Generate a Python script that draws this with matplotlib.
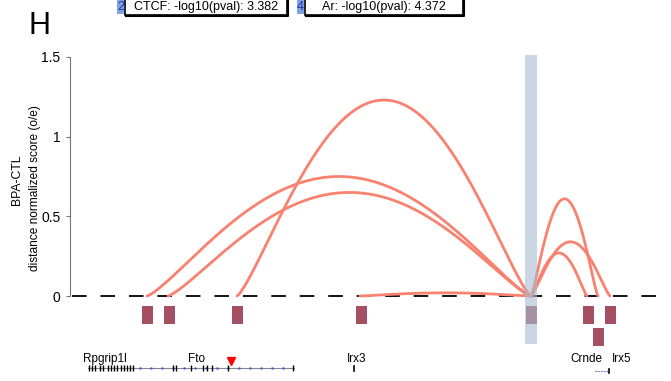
import numpy as np
import matplotlib
matplotlib.use("Agg")
import matplotlib.pyplot as plt
from matplotlib.patches import Rectangle

plt.rcParams['font.family'] = ['Liberation Sans', 'DejaVu Sans']
plt.rcParams['lines.scale_dashes'] = False

# loop anchors (x in track units) and heights (o/e score)
anchor = 531
left_ends = [147, 168, 237, 360]
left_heights = [0.75, 0.65, 1.23, 0.02]
right_ends = [587, 598, 610]
right_heights = [0.27, 0.61, 0.34]

# interacting bins below the axis
bin_pos = [147, 169, 237, 361, 531, 588, 598, 610]
bin_row = [0, 0, 0, 0, 0, 0, 1, 0]

# genes
gene_names = ['Rpgrip1l', 'Fto', 'Irx3', 'Crnde', 'Irx5']
gene_label_x = [105, 197, 357, 586, 622]
exons = [89, 92, 95, 100, 103, 108, 111, 114, 117, 121, 124, 127, 130, 133,
         173, 176, 191, 203, 207, 212, 228, 293]
snp_x = 231

# header motif boxes
motif_ids = ['2', '4']
motif_text = ['CTCF: -log10(pval): 3.382', 'Ar: -log10(pval): 4.372']

arc_color = '#F8826F'
bin_color = '#A44F62'

# pixel -> data mapping for layout
y0px, y15px = 296, 57
per = 1.5 / (y0px - y15px)
def py(p):
    return (y0px - p) * per

fig = plt.figure(figsize=(6.71, 3.81), dpi=100)
ax = fig.add_axes([70 / 671, 0, 601 / 671, 1])
ax.set_xlim(70, 671)
ax.set_ylim(py(381), py(0))


def arc(x_a, x_b, h, n=200):
    t = np.linspace(0, 1, n)
    x = x_a + t * (x_b - x_a)
    y = h * (4 * t * (1 - t)) ** 1.3
    return x, y

# baseline
ax.plot([72, 662], [0, 0], color='black', lw=1.3, dashes=(10.5, 10), zorder=1)

for s, h in zip(left_ends, left_heights):
    x, y = arc(s, anchor, h)
    ax.plot(x, y, color=arc_color, lw=2.0, solid_capstyle='round', zorder=2)
for e, h in zip(right_ends, right_heights):
    x, y = arc(anchor, e, h)
    ax.plot(x, y, color=arc_color, lw=2.0, solid_capstyle='round', zorder=2)

# bins
bw = 11
for xb, r in zip(bin_pos, bin_row):
    top = py(306) if r == 0 else py(328)
    bot = py(324) if r == 0 else py(346)
    ax.add_patch(Rectangle((xb - bw / 2, bot), bw, top - bot,
                           color=bin_color, lw=0, zorder=3))

# highlighted viewpoint
ax.add_patch(Rectangle((anchor - 6, py(344)), 12, py(55) - py(344),
                       color='#A7BCD1', alpha=0.6, lw=0, zorder=4))

# gene track
ax.plot([88, 294], [py(368), py(368)], color='#888888', lw=0.8, zorder=2)
dots = np.arange(140, 294, 11)
ax.plot(dots, [py(368)] * len(dots), ls='none', marker='.', ms=1.5,
        color='#4455DD', zorder=3)
ax.plot(exons, [py(368)] * len(exons), ls='none', marker='|', ms=4,
        mew=1.0, color='black', zorder=3)
ax.plot([354, 354], [py(366), py(371)], color='black', lw=1.2)
ax.plot([595, 608], [py(371), py(371)], color='#4455DD', lw=0.8, ls=(0, (1, 1)))
ax.plot([609, 609], [py(369), py(373)], color='black', lw=1.2)
ax.plot([snp_x], [py(361)], marker='v', ms=6, color='red', ls='none')
for name, gx in zip(gene_names, gene_label_x):
    ax.text(gx, py(359), name, ha='center', va='center', fontsize=8.5)

# axes styling
for s in ['top', 'right', 'bottom']:
    ax.spines[s].set_visible(False)
ax.spines['left'].set_bounds(0, 1.5)
ax.spines['left'].set_color('#777777')
ax.set_xticks([])
ax.set_yticks([0, 0.5, 1, 1.5])
ax.set_yticklabels(['0', '0.5', '1', '1.5'])
ax.tick_params(axis='y', length=3, color='#777777', labelsize=10, pad=4)

fig.text(17 / 671, 1 - 180 / 381, 'BPA-CTL', rotation=90, ha='center',
         va='center', fontsize=8.8)
fig.text(35 / 671, 1 - 188 / 381, 'distance normalized score (o/e)',
         rotation=90, ha='center', va='center', fontsize=8.6)
fig.text(28 / 671, 1 - 26 / 381, 'H', ha='left', va='center', fontsize=22)

# header boxes in pixel coords
hx = fig.add_axes([0, 0, 1, 1])
hx.set_xlim(0, 671)
hx.set_ylim(381, 0)
hx.axis('off')
box_left = [125, 305]
box_right = [287, 463]
for mid, txt, bl, br in zip(motif_ids, motif_text, box_left, box_right):
    hx.add_patch(Rectangle((bl - 8, -2), 7, 16, color='#7FA3E6', lw=0))
    hx.text(bl - 4.5, 7, mid, ha='center', va='center', fontsize=9, color='#2233AA')
    hx.add_patch(Rectangle((bl, -3), br - bl, 18, fc='white', ec='black', lw=1.2))
    hx.plot([bl + 1, br + 1, br + 1], [16, 16, -3], color='black', lw=1.5)
    hx.text((bl + br) / 2, 7, txt, ha='center', va='center', fontsize=9)

fig.savefig('out.png', dpi=100)
